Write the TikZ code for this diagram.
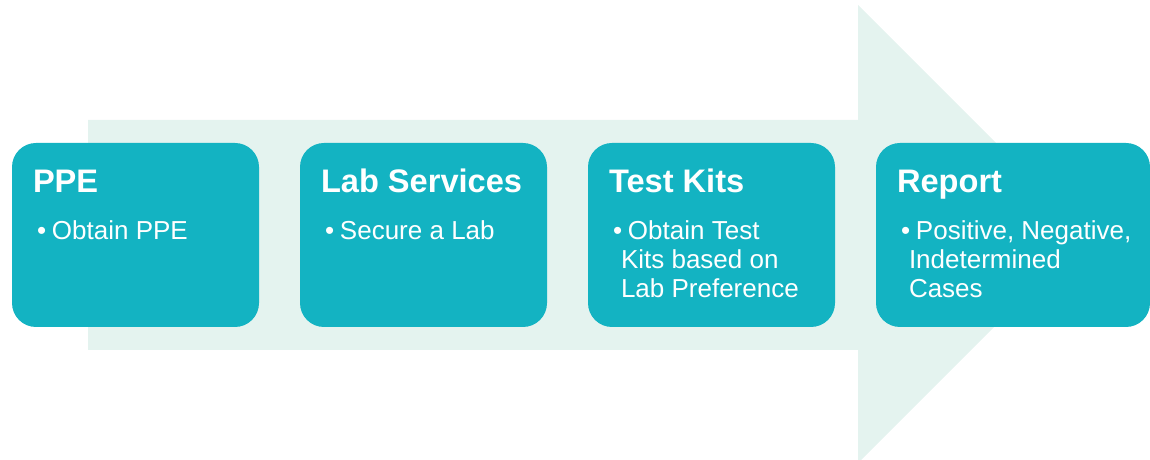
\documentclass[tikz,border=0pt]{standalone}
\usepackage{fontspec}
\setmainfont{Liberation Sans}
\usetikzlibrary{positioning}
\definecolor{Teal}{HTML}{13B3C2}
\definecolor{Mint}{HTML}{E4F3EF}
\tikzset{
  stepbox/.style={fill=Teal,rounded corners=12pt,minimum width=123.5pt,minimum height=92pt,inner sep=0pt},
  steptitle/.style={anchor=base west,text=white,inner sep=0pt,font=\fontsize{16.3}{20}\selectfont\bfseries},
  stepbody/.style={anchor=base west,text=white,inner sep=0pt,align=left,font=\fontsize{13}{14.5}\selectfont},
}
\newcommand{\stepbullet}{\makebox[7.5pt][l]{\textbullet}}

\begin{document}
\begin{tikzpicture}[x=0.5pt,y=0.5pt]
    \useasboundingbox (0,0) rectangle (1150,460);
    % background arrow
    \fill[Mint] (88,340) -- (858,340) -- (858,455) -- (1087,226) -- (858,-3) -- (858,110) -- (88,110) -- cycle;

    \node[stepbox] (ppe) at (135.5,225) {};
    \node[stepbox] (lab) at (423.5,225) {};
    \node[stepbox] (kits) at (711.5,225) {};
    \node[stepbox,minimum width=137pt] (report) at (1013,225) {};

    % base of a multi-line node is its last line: 48.5pt + 2 x 14.5pt
    \node[steptitle] (ppeT) at ([xshift=10.5pt,yshift=-25pt]ppe.north west) {PPE};
    \node[stepbody] (ppeB) at ([xshift=12.5pt,yshift=-48.5pt]ppe.north west) {\stepbullet Obtain PPE};

    \node[steptitle] (labT) at ([xshift=10.5pt,yshift=-25pt]lab.north west) {Lab Services};
    \node[stepbody] (labB) at ([xshift=12.5pt,yshift=-48.5pt]lab.north west) {\stepbullet Secure a Lab};

    \node[steptitle] (kitsT) at ([xshift=10.5pt,yshift=-25pt]kits.north west) {Test Kits};
    \node[stepbody] (kitsB) at ([xshift=12.5pt,yshift=-77.5pt]kits.north west) {\stepbullet Obtain Test\\\hspace*{4pt}Kits based on\\\hspace*{4pt}Lab Preference};

    \node[steptitle] (reportT) at ([xshift=10.5pt,yshift=-25pt]report.north west) {Report};
    \node[stepbody] (reportB) at ([xshift=12.5pt,yshift=-77.5pt]report.north west) {\stepbullet Positive, Negative,\\\hspace*{4pt}Indetermined\\\hspace*{4pt}Cases};
\end{tikzpicture}
\end{document}
